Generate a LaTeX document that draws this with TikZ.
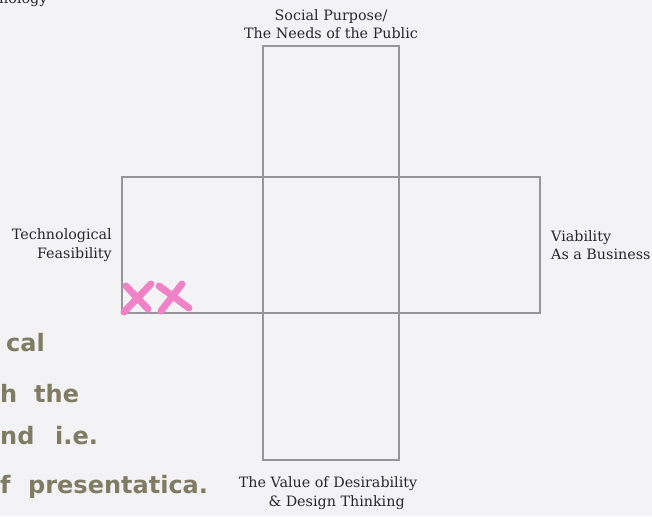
\documentclass[tikz,border=0pt]{standalone}
\usepackage{fontspec}
\setmainfont{DejaVu Serif}
\newfontfamily\handfont{DejaVu Sans}
\definecolor{paper}{RGB}{243,243,246}
\definecolor{boxline}{RGB}{150,150,152}
\definecolor{ink}{RGB}{40,40,40}
\definecolor{hand}{RGB}{128,124,100}
\definecolor{marker}{RGB}{240,130,200}
\tikzset{
  boxrule/.style={draw=boxline, line width=1.2pt},
  lbl/.style={text=ink, font=\fontsize{14.3}{18.5}\selectfont, inner sep=0pt},
  handtext/.style={text=hand, font=\handfont\bfseries\fontsize{24}{24}\selectfont, inner sep=0pt, anchor=base west},
  xmark/.style={draw=marker, line width=7pt, line cap=round}
}
\begin{document}
\begin{tikzpicture}[x=1pt,y=-1pt]
\fill[paper] (0,0) rectangle (652,516);
\useasboundingbox (0,0) rectangle (652,516);
% cross
\draw[boxrule] (263,46) rectangle (399,460);
\draw[boxrule] (122,177) rectangle (540,313);
% labels
\node[lbl, align=center] (top) at (331,24) {Social Purpose/\\The Needs of the Public};
\node[lbl, align=right, anchor=east] (left) at (112,245) {Technological\\Feasibility};
\node[lbl, align=left, anchor=west] (right) at (551,245) {Viability\\As a Business};
\node[lbl, align=center] (bottom) at (328,493) {The Value of Desirability\\\hspace*{1.2em}\& Design Thinking};
\node[lbl, anchor=base west] (cut) at (-1,4) {nology};
% handwriting
\node[handtext] (h1) at (6,351) {cal};
\node[handtext] (h2a) at (0,402) {h};
\node[handtext] (h2b) at (34,402) {the};
\node[handtext] (h3a) at (0,444) {nd};
\node[handtext] (h3b) at (55,444) {i.e.};
\node[handtext] (h4a) at (0,493) {f};
\node[handtext] (h4b) at (28,493) {presentatica.};
% pink marks
\draw[xmark] (126,286) -- (148,309);
\draw[xmark] (151,284) -- (124,312);
\draw[xmark] (159,286) -- (189,308);
\draw[xmark] (182,284) -- (161,311);
\end{tikzpicture}
\end{document}
